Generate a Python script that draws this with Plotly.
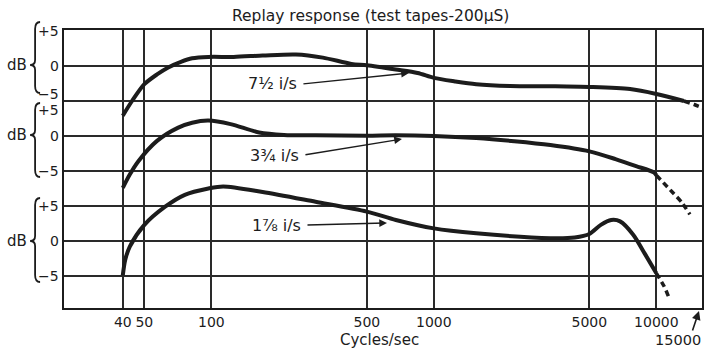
import plotly.graph_objects as go

# ---- response curves (frequency in c/s, level in dB relative to each panel's 0 line)
freq_7h = [40, 44, 50, 57, 64, 73, 82, 97, 126, 170, 240, 317, 426, 500, 675, 845, 1000, 1245, 1550,
           2200, 3340, 5000, 7620, 10000, 13300]
db_7h = [-7.1, -5.0, -2.6, -1.2, -0.2, 0.6, 1.1, 1.3, 1.3, 1.5, 1.65, 1.2, 0.3, 0.1, -0.5, -1.0, -1.7,
         -2.2, -2.6, -2.85, -2.9, -3.0, -3.3, -4.0, -5.0]
freq_7h_ext = [13300, 14800, 16500]
db_7h_ext = [-5.0, -5.5, -6.1]

freq_3q = [40, 43, 47, 57, 71, 82, 97, 122, 164, 212, 294, 500, 675, 1000, 1550, 2300, 3340, 5000,
           6550, 8110, 9730, 10000]
db_3q = [-7.4, -5.5, -3.6, -0.7, 1.2, 1.9, 2.2, 1.7, 0.5, 0.15, 0.1, 0.05, 0.1, 0.0, -0.3, -0.75,
         -1.3, -2.2, -3.3, -4.3, -5.2, -5.6]
freq_3q_ext = [10000, 11700, 12950, 14150]
db_3q_ext = [-5.6, -7.9, -9.4, -11.2]

freq_1e = [40, 41, 43, 50, 62, 76, 97, 113, 170, 294, 500, 675, 1000, 1550, 3340, 4300, 5000, 5630,
           6270, 6870, 7870, 8870, 10000]
db_1e = [-4.9, -2.7, -0.8, 2.3, 4.9, 6.6, 7.5, 7.8, 7.0, 5.6, 4.2, 3.0, 1.8, 1.1, 0.4, 0.5, 1.0, 2.3,
         3.0, 2.8, 0.9, -1.8, -4.6]
freq_1e_ext = [10000, 10850, 11330]
db_1e_ext = [-4.6, -6.5, -7.9]

speed_labels = ["7½ i/s", "3¾ i/s", "1⅞ i/s"]
panel_zero = [0, -10, -25]          # where each panel's 0 dB line sits on the shared y scale
level_ticks = [5, 0, -5]
level_text = ["+5", "0", "−5"]

x_ticks = [40, 50, 100, 500, 1000, 5000, 10000]
x_ticktext = ["40", "50", "100", "500", "1000", "5000", "10000"]

# ---- geometry helpers (pixel -> paper)
W, H = 705, 348
ML, MR, MT, MB = 64, 1, 30, 40
PW, PH = W - ML - MR, H - MT - MB


def px(x):
    return (x - ML) / PW


def py(y):
    return (H - MB - y) / PH


INK = "#1c1c1c"
FONT = "DejaVu Sans"

fig = go.Figure()

curves = [
    (freq_7h, db_7h, freq_7h_ext, db_7h_ext, panel_zero[0]),
    (freq_3q, db_3q, freq_3q_ext, db_3q_ext, panel_zero[1]),
    (freq_1e, db_1e, freq_1e_ext, db_1e_ext, panel_zero[2]),
]
for f, d, fe, de, z in curves:
    fig.add_trace(go.Scatter(x=f, y=[v + z for v in d], mode="lines",
                             line=dict(color=INK, width=4, shape="spline", smoothing=0.8),
                             hoverinfo="skip", showlegend=False))
    fig.add_trace(go.Scatter(x=fe, y=[v + z for v in de], mode="lines",
                             line=dict(color=INK, width=3.5, shape="spline", smoothing=0.6,
                                       dash="6px,4px"),
                             hoverinfo="skip", showlegend=False))

grid_y = sorted({z + t for z in panel_zero for t in level_ticks})

fig.update_xaxes(type="log", range=[1.3378, 4.2052], tickvals=x_ticks, ticktext=x_ticktext,
                 showgrid=True, gridcolor="#2a2a2a", gridwidth=1.5, ticks="",
                 showline=True, linecolor=INK, linewidth=2, mirror=True,
                 ticklabelstandoff=0,
                 tickfont=dict(family=FONT, size=14, color=INK), zeroline=False)
fig.update_yaxes(range=[-34.571, 5.143], tickvals=grid_y, showticklabels=False,
                 showgrid=True, gridcolor="#2a2a2a", gridwidth=1.5, ticks="",
                 showline=True, linecolor=INK, linewidth=2, mirror=True, zeroline=False)

ann = []
shapes = []

# panel level labels, "dB" and braces
label_shift = {(0, -5): 7, (1, 5): -9}
brace_px = [(22, 65, 93), (103, 135, 177), (198, 241, 282)]
for i, z in enumerate(panel_zero):
    for t, txt in zip(level_ticks, level_text):
        ann.append(dict(x=px(61), y=z + t, xref="paper", yref="y", text=txt, showarrow=False,
                        xanchor="right", yanchor="middle", yshift=label_shift.get((i, t), 0),
                        font=dict(family=FONT, size=14, color=INK)))
    top, mid, bot = brace_px[i]
    ann.append(dict(x=px(17), y=py(mid), xref="paper", yref="paper", text="dB", showarrow=False,
                    xanchor="center", yanchor="middle",
                    font=dict(family=FONT, size=15, color=INK)))
    xr, xs, xt = 40, 35, 30
    pts = [("M", xr, top), ("Q", xs, top), ("", xs, top + 7), ("L", xs, mid - 5),
           ("Q", xs, mid), ("", xt, mid), ("Q", xs, mid), ("", xs, mid + 5),
           ("L", xs, bot - 7), ("Q", xs, bot), ("", xr, bot)]
    path = " ".join(f"{c} {px(a):.5f},{py(b):.5f}".strip() for c, a, b in pts)
    shapes.append(dict(type="path", xref="paper", yref="paper", path=path,
                       line=dict(color=INK, width=1.8)))

# curve labels with their arrows
label_pos = [(273, 83), (275, 155), (277, 225)]
arrow_px = [((303, 84), (410, 73)), ((305, 155), (403, 139)), ((307, 225), (388, 223))]
for txt, (lx, ly), ((tx, ty), (hx, hy)) in zip(speed_labels, label_pos, arrow_px):
    ann.append(dict(x=px(lx), y=py(ly), xref="paper", yref="paper", text=txt, showarrow=False,
                    xanchor="center", yanchor="middle",
                    font=dict(family=FONT, size=16, color=INK)))
    ann.append(dict(x=px(hx), y=py(hy), xref="paper", yref="paper", text="", showarrow=True,
                    ax=tx - hx, ay=ty - hy, arrowhead=2, arrowsize=1.1, arrowwidth=1.4,
                    arrowcolor=INK))

# title, axis caption and the 15000 marker
ann.append(dict(x=px(371), y=py(16), xref="paper", yref="paper",
                text="Replay response (test tapes-200µS)", showarrow=False,
                xanchor="center", yanchor="middle", font=dict(family=FONT, size=15.5, color=INK)))
ann.append(dict(x=px(380), y=py(340), xref="paper", yref="paper", text="Cycles/sec",
                showarrow=False, xanchor="center", yanchor="middle",
                font=dict(family=FONT, size=15, color=INK)))
ann.append(dict(x=px(680), y=py(340), xref="paper", yref="paper", text="15000",
                showarrow=False, xanchor="center", yanchor="middle",
                font=dict(family=FONT, size=14.5, color=INK)))
ann.append(dict(x=px(701), y=py(311), xref="paper", yref="paper", text="", showarrow=True,
                ax=-7, ay=21, arrowhead=2, arrowsize=1.1, arrowwidth=1.6, arrowcolor=INK))

fig.update_layout(width=W, height=H, margin=dict(l=ML, r=MR, t=MT, b=MB),
                  paper_bgcolor="white", plot_bgcolor="white",
                  annotations=ann, shapes=shapes, showlegend=False)

fig.write_html("out.html")
